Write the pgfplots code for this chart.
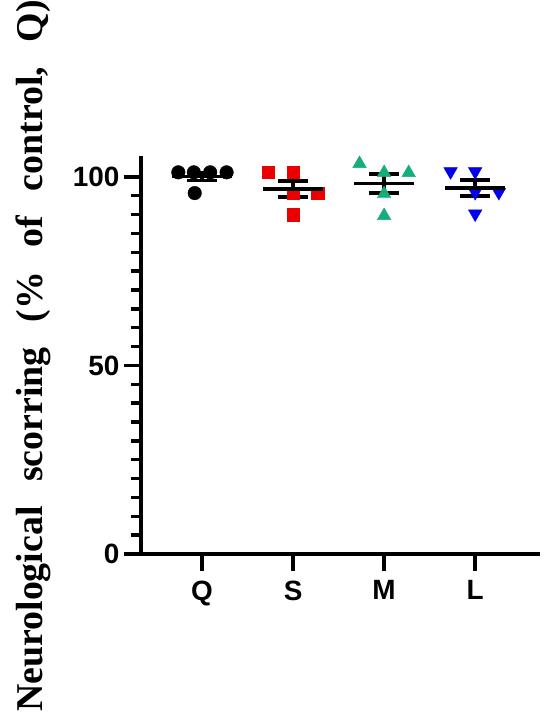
\documentclass[border=0pt]{standalone}
\usepackage{fontspec}
\setmainfont{Liberation Sans}
\newfontfamily\labelfont{Liberation Serif}
\usepackage{pgfplots}
\pgfplotsset{compat=1.18}

\definecolor{cQ}{RGB}{0,0,0}
\definecolor{cS}{RGB}{235,0,0}
\definecolor{cM}{RGB}{20,175,120}
\definecolor{cL}{RGB}{0,0,235}

\begin{document}
\begin{tikzpicture}
\begin{axis}[
    scale only axis,
    width=397bp, height=396bp,
    xmin=0.33, xmax=4.69,
    ymin=0, ymax=105,
    axis lines*=left,
    axis line style={line width=3.5bp, line cap=rect},
    clip=false,
    xtick={1,2,3,4},
    xticklabels={Q,S,M,L},
    ytick={0,50,100},
    minor ytick={5,10,15,20,25,30,35,40,45,55,60,65,70,75,80,85,90,95},
    tick align=outside,
    major tick length=17bp,
    minor tick length=10bp,
    every tick/.style={line width=3.5bp, black},
    /pgf/number format/assume math mode=true,
    yticklabel style={font=\bfseries\fontsize{28}{28}\selectfont, xshift=-1bp},
    xticklabel style={font=\bfseries\fontsize{28}{28}\selectfont, yshift=-6bp},
    ylabel={\labelfont\bfseries\fontsize{38}{38}\selectfont Neurological\hspace{0.65em}scorring\hspace{0.65em}(\%\hspace{0.65em}of\hspace{0.65em}control,\hspace{0.65em}Q)},
    ylabel style={at={(axis description cs:-0.247,0.5)}, anchor=base},
]
% individual animals
\addplot[only marks, mark=*, mark size=6.8bp, color=cQ] coordinates {
(0.74,101.2)(0.91,101.2)(1.09,101.2)(1.27,101.2)(0.92,95.7)};
\addplot[only marks, mark=square*, mark size=6.2bp, color=cS] coordinates {
(1.73,101.2)(2.00,101.2)(2.00,95.7)(2.27,95.7)(2.00,90.0)};
\addplot[only marks, mark=triangle*, mark size=7.8bp, color=cM] coordinates {
(2.73,103.5)(3.00,101.1)(3.27,101.1)(3.00,95.5)(3.00,89.7)};
\addplot[only marks, mark=triangle*, mark size=7.8bp, color=cL, mark options={rotate=180}] coordinates {
(3.73,101.4)(4.00,101.4)(4.00,95.9)(4.26,95.9)(4.00,90.2)};
% mean +- SEM
\addplot[black, only marks, mark=-, mark size=30bp, mark options={line width=3.5bp},
    error bars/.cd, y dir=both, y explicit,
    error mark=|,
    error bar style={line width=3.5bp},
    error mark options={line width=3.5bp, mark size=15bp}] coordinates {
(1,100.1) +- (0,1.1)
(2,96.8) +- (0,2.1)
(3,98.2) +- (0,2.5)
(4,97.0) +- (0,2.1)};
\draw[line width=3.5bp] (axis cs:0.14,0) -- (axis cs:0.33,0);
\end{axis}
\pgfresetboundingbox
\path (current axis.south west) ++(-141bp,-160bp) rectangle ++(550bp,714bp);
\end{tikzpicture}
\end{document}
